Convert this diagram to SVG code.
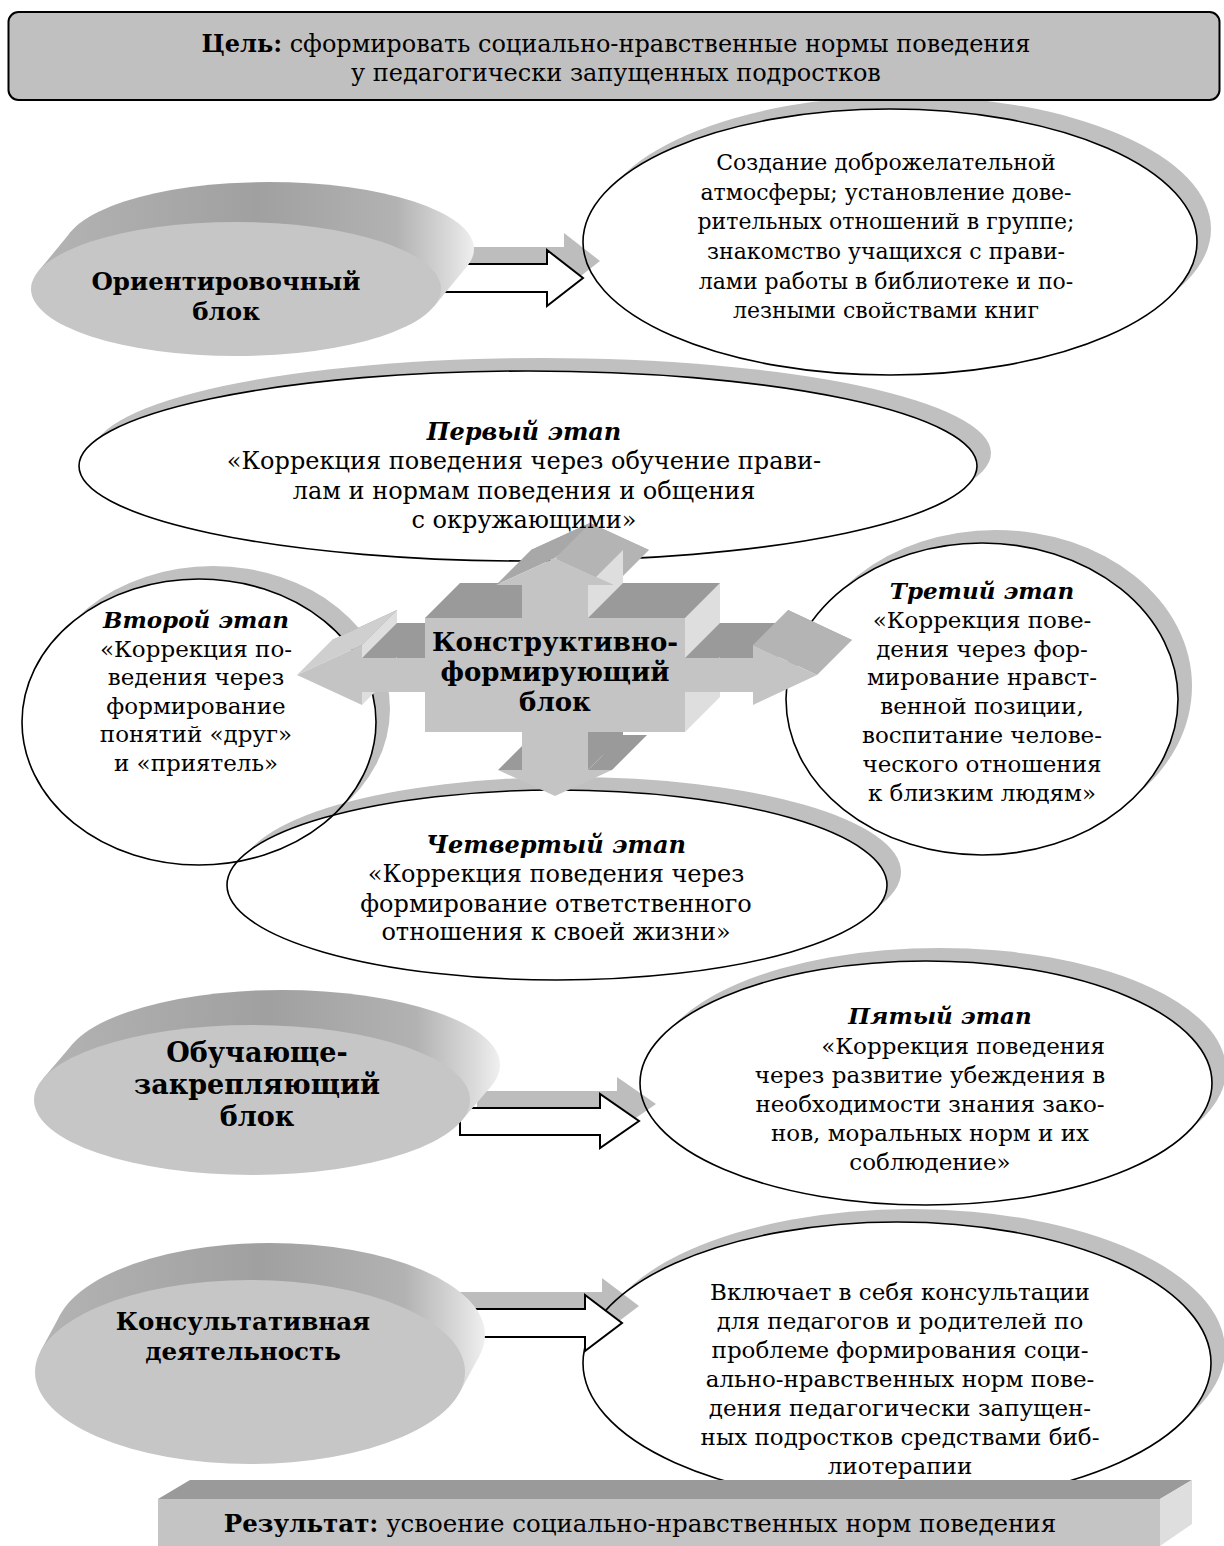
<svg xmlns="http://www.w3.org/2000/svg" xmlns:xlink="http://www.w3.org/1999/xlink" width="1224" height="1546" viewBox="0 0 1224 1546">
<style>
.t{font-family:"DejaVu Serif","Liberation Serif",serif;font-size:23px;fill:#000;text-anchor:middle}
.big{font-size:24px}
.h{font-family:"DejaVu Serif","Liberation Serif",serif;font-size:24.5px;font-weight:bold;fill:#000;text-anchor:middle}
.bi{font-weight:bold;font-style:italic}
.b{font-weight:bold}
.ol{fill:none;stroke:#000;stroke-width:1.6}
.sh{fill:#c0c0c0}
.ga{fill:#bdbdbd}
.wa{fill:#fff;stroke:#000;stroke-width:2}
.face{fill:#c6c6c6}
.dk{fill:#9a9a9a}
.md{fill:#b4b4b4}
.lt{fill:#dedede}
</style>
<defs>
<mask id="m0" maskUnits="userSpaceOnUse" x="0" y="0" width="1224" height="1546"><rect width="1224" height="1546" fill="#fff"/><ellipse cx="890" cy="242" rx="307" ry="133" fill="#000"/></mask>
<mask id="m1" maskUnits="userSpaceOnUse" x="0" y="0" width="1224" height="1546"><rect width="1224" height="1546" fill="#fff"/><ellipse cx="528" cy="466" rx="449" ry="95" fill="#000"/></mask>
<mask id="m2" maskUnits="userSpaceOnUse" x="0" y="0" width="1224" height="1546"><rect width="1224" height="1546" fill="#fff"/><ellipse cx="199" cy="722" rx="177" ry="143" fill="#000"/></mask>
<mask id="m3" maskUnits="userSpaceOnUse" x="0" y="0" width="1224" height="1546"><rect width="1224" height="1546" fill="#fff"/><ellipse cx="982" cy="699" rx="196" ry="156" fill="#000"/></mask>
<mask id="m4" maskUnits="userSpaceOnUse" x="0" y="0" width="1224" height="1546"><rect width="1224" height="1546" fill="#fff"/><ellipse cx="557" cy="885" rx="330" ry="95" fill="#000"/></mask>
<mask id="m5" maskUnits="userSpaceOnUse" x="0" y="0" width="1224" height="1546"><rect width="1224" height="1546" fill="#fff"/><ellipse cx="926" cy="1083" rx="286" ry="122" fill="#000"/></mask>
<mask id="m6" maskUnits="userSpaceOnUse" x="0" y="0" width="1224" height="1546"><rect width="1224" height="1546" fill="#fff"/><ellipse cx="897" cy="1363" rx="314" ry="141" fill="#000"/></mask>
<linearGradient id="rim0" gradientUnits="userSpaceOnUse" x1="38" y1="0" x2="475" y2="0"><stop offset="0" stop-color="#b4b4b4"/><stop offset="0.5" stop-color="#a0a0a0"/><stop offset="0.82" stop-color="#b2b2b2"/><stop offset="0.95" stop-color="#dcdcdc"/><stop offset="1" stop-color="#f0f0f0"/></linearGradient>
<linearGradient id="rim1" gradientUnits="userSpaceOnUse" x1="34" y1="0" x2="500" y2="0"><stop offset="0" stop-color="#b4b4b4"/><stop offset="0.5" stop-color="#a0a0a0"/><stop offset="0.82" stop-color="#b2b2b2"/><stop offset="0.95" stop-color="#dcdcdc"/><stop offset="1" stop-color="#f0f0f0"/></linearGradient>
<linearGradient id="rim2" gradientUnits="userSpaceOnUse" x1="35" y1="0" x2="485" y2="0"><stop offset="0" stop-color="#b4b4b4"/><stop offset="0.5" stop-color="#a0a0a0"/><stop offset="0.82" stop-color="#b2b2b2"/><stop offset="0.95" stop-color="#dcdcdc"/><stop offset="1" stop-color="#f0f0f0"/></linearGradient>
<polygon id="crossFront" points="555,558 614,585 588,585 588,618 685,618 685,658 753,658 753,645 817,675 753,705 753,692 685,692 685,732 588,732 588,770 612,770 555,796 498,770 522,770 522,732 425,732 425,692 362,692 362,705 297,675 362,645 362,658 425,658 425,618 522,618 522,585 496,585"/>
</defs>

<g id="shadows">
<ellipse class="sh" cx="904" cy="229" rx="307" ry="133" mask="url(#m0)"/>
<ellipse class="sh" cx="542" cy="453" rx="449" ry="95" mask="url(#m1)"/>
<ellipse class="sh" cx="213" cy="709" rx="177" ry="143" mask="url(#m2)"/>
<ellipse class="sh" cx="996" cy="686" rx="196" ry="156" mask="url(#m3)"/>
<ellipse class="sh" cx="571" cy="872" rx="330" ry="95" mask="url(#m4)"/>
<ellipse class="sh" cx="940" cy="1070" rx="286" ry="122" mask="url(#m5)"/>
<ellipse class="sh" cx="911" cy="1350" rx="314" ry="141" mask="url(#m6)"/>
</g>

<g id="connectors">
<path class="ga" d="M447 247 L564 247 L564 233 L600 261 L564 289 L564 275 L447 275 Z"/>
<path class="ga" d="M477 1091 L617 1091 L617 1077 L656 1104 L617 1131 L617 1118 L477 1118 Z"/>
<path class="ga" d="M457 1292 L602 1292 L602 1278 L639 1306 L602 1334 L602 1320 L457 1320 Z"/>
</g>

<g id="stage-outlines">
<ellipse class="ol" cx="890" cy="242" rx="307" ry="133"/>
<ellipse class="ol" cx="528" cy="466" rx="449" ry="95"/>
<ellipse class="ol" cx="199" cy="722" rx="177" ry="143"/>
<ellipse class="ol" cx="982" cy="699" rx="196" ry="156"/>
<ellipse class="ol" cx="557" cy="885" rx="330" ry="95"/>
<ellipse class="ol" cx="926" cy="1083" rx="286" ry="122"/>
<ellipse class="ol" cx="897" cy="1363" rx="314" ry="141"/>
</g>

<g id="connector-arrows">
<path class="wa" d="M430 264 L547 264 L547 250 L583 278 L547 306 L547 292 L430 292 Z"/>
<path class="wa" d="M460 1108 L600 1108 L600 1094 L639 1121 L600 1148 L600 1135 L460 1135 Z"/>
<path class="wa" d="M440 1309 L585 1309 L585 1295 L622 1323 L585 1351 L585 1337 L440 1337 Z"/>
</g>

<g id="disc-orient">
<ellipse cx="269" cy="249" rx="205" ry="67" fill="url(#rim0)"/>
<polygon points="433.9,306.4 466.9,266.4 71.1,231.6 38.1,271.6" fill="url(#rim0)"/>
<ellipse class="face" cx="236" cy="289" rx="205" ry="67"/>
<text class="h" x="226" y="290">Ориентировочный</text>
<text class="h" x="226" y="320">блок</text>
</g>

<g id="disc-learn">
<ellipse cx="282" cy="1065" rx="218" ry="75" fill="url(#rim1)"/>
<polygon points="461.1,1121.2 491.1,1086.2 72.9,1043.8 42.9,1078.8" fill="url(#rim1)"/>
<ellipse class="face" cx="252" cy="1100" rx="218" ry="75"/>
<text class="h" x="257" y="1062" style="font-size:27px">Обучающе-</text>
<text class="h" x="257" y="1094" style="font-size:27px">закрепляющий</text>
<text class="h" x="257" y="1126" style="font-size:27px">блок</text>
</g>

<g id="disc-consult">
<ellipse cx="270" cy="1335" rx="215" ry="92" fill="url(#rim2)"/>
<polygon points="459.5,1392.7 479.5,1355.7 60.5,1314.3 40.5,1351.3" fill="url(#rim2)"/>
<ellipse class="face" cx="250" cy="1372" rx="215" ry="92"/>
<text class="h" x="243" y="1330">Консультативная</text>
<text class="h" x="243" y="1360">деятельность</text>
</g>

<g id="cross">
<use xlink:href="#crossFront" href="#crossFront" fill="#9a9a9a" transform="translate(35,-35)"/>
<polygon points="496,585 555,558 590,523 531,550" fill="#a8a8a8"/>
<polygon class="dk" points="588,618 685,618 720,583 623,583"/>
<polygon class="dk" points="685,658 753,658 788,623 720,623"/>
<polygon class="dk" points="588,732 588,770 623,735 623,697"/>
<polygon class="dk" points="588,770 612,770 647,735 623,735"/>
<polygon class="dk" points="498,770 522,770 557,735 533,735"/>
<polygon class="dk" points="362,658 425,658 460,623 397,623"/>
<polygon class="dk" points="425,618 522,618 557,583 460,583"/>
<polygon class="md" points="555,558 614,585 649,550 590,523"/>
<polygon class="md" points="753,645 817,675 852,640 788,610"/>
<polygon points="297,675 362,645 397,610 332,640" fill="#cfcfcf"/>
<polygon class="lt" points="588,585 588,618 623,583 623,550"/>
<polygon class="lt" points="685,618 685,658 720,623 720,583"/>
<polygon class="lt" points="685,692 685,732 720,697 720,657"/>
<polygon class="lt" points="362,692 362,705 397,670 397,657"/>
<polygon class="lt" points="362,645 362,658 397,623 397,610"/>
<use xlink:href="#crossFront" href="#crossFront" fill="#c4c4c4"/>
<text class="h" x="555" y="651" style="font-size:26px">Конструктивно-</text>
<text class="h" x="555" y="681" style="font-size:26px">формирующий</text>
<text class="h" x="555" y="711" style="font-size:26px">блок</text>
</g>

<g id="result">
<polygon class="dk" points="158,1499 190,1480 1192,1480 1160,1499"/>
<polygon class="lt" points="1160,1499 1192,1480 1192,1524 1160,1546"/>
<rect x="158" y="1499" width="1002" height="60" fill="#c4c4c4"/>
<text class="t" x="640" y="1532" style="font-size:24.5px"><tspan class="b">Результат:</tspan> усвоение социально-нравственных норм поведения</text>
</g>

<g id="goal">
<rect x="8.5" y="12" width="1211" height="88" rx="10" fill="#c0c0c0" stroke="#000" stroke-width="2"/>
<text class="t big" x="616" y="52"><tspan class="b">Цель:</tspan> сформировать социально-нравственные нормы поведения</text>
<text class="t big" x="616" y="81">у педагогически запущенных подростков</text>
</g>

<g id="text-orient">
<text class="t" x="886" y="170" style="font-size:22px">Создание доброжелательной</text>
<text class="t" x="886" y="200" style="font-size:22px">атмосферы; установление дове-</text>
<text class="t" x="886" y="229" style="font-size:22px">рительных отношений в группе;</text>
<text class="t" x="886" y="259" style="font-size:22px">знакомство учащихся с прави-</text>
<text class="t" x="886" y="289" style="font-size:22px">лами работы в библиотеке и по-</text>
<text class="t" x="886" y="318" style="font-size:22px">лезными свойствами книг</text>
</g>

<g id="stage1">
<text class="t bi big" x="524" y="440">Первый этап</text>
<text class="t big" x="524" y="469">«Коррекция поведения через обучение прави-</text>
<text class="t big" x="524" y="499">лам и нормам поведения и общения</text>
<text class="t big" x="524" y="528">с окружающими»</text>
</g>

<g id="stage2">
<text class="t bi" x="196" y="628">Второй этап</text>
<text class="t" x="196" y="657">«Коррекция по-</text>
<text class="t" x="196" y="685">ведения через</text>
<text class="t" x="196" y="714">формирование</text>
<text class="t" x="196" y="742">понятий «друг»</text>
<text class="t" x="196" y="771">и «приятель»</text>
</g>

<g id="stage3">
<text class="t bi" x="982" y="599">Третий этап</text>
<text class="t" x="982" y="628">«Коррекция пове-</text>
<text class="t" x="982" y="657">дения через фор-</text>
<text class="t" x="982" y="685">мирование нравст-</text>
<text class="t" x="982" y="714">венной позиции,</text>
<text class="t" x="982" y="743">воспитание челове-</text>
<text class="t" x="982" y="772">ческого отношения</text>
<text class="t" x="982" y="801">к близким людям»</text>
</g>

<g id="stage4">
<text class="t bi big" x="556" y="853">Четвертый этап</text>
<text class="t big" x="556" y="882">«Коррекция поведения через</text>
<text class="t big" x="556" y="912">формирование ответственного</text>
<text class="t big" x="556" y="940">отношения к своей жизни»</text>
</g>

<g id="stage5">
<text class="t bi" x="940" y="1024">Пятый этап</text>
<text class="t" x="1105" y="1054" style="text-anchor:end">«Коррекция поведения</text>
<text class="t" x="930" y="1083">через развитие убеждения в</text>
<text class="t" x="930" y="1112">необходимости знания зако-</text>
<text class="t" x="930" y="1141">нов, моральных норм и их</text>
<text class="t" x="930" y="1170">соблюдение»</text>
</g>

<g id="consult-text">
<text class="t" x="900" y="1300">Включает в себя консультации</text>
<text class="t" x="900" y="1329">для педагогов и родителей по</text>
<text class="t" x="900" y="1358">проблеме формирования соци-</text>
<text class="t" x="900" y="1387">ально-нравственных норм пове-</text>
<text class="t" x="900" y="1416">дения педагогически запущен-</text>
<text class="t" x="900" y="1445">ных подростков средствами биб-</text>
<text class="t" x="900" y="1474">лиотерапии</text>
</g>
</svg>
